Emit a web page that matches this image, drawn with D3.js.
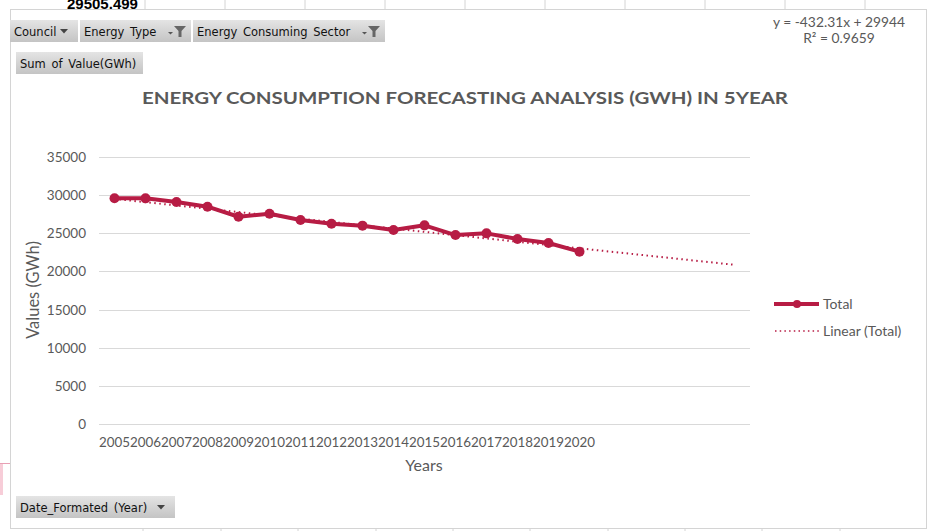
<!DOCTYPE html>
<html><head><meta charset="utf-8">
<script src="https://cdn.jsdelivr.net/npm/d3@7"></script>
<style>
html,body{margin:0;padding:0;background:#fff;}
svg{display:block;}
</style></head>
<body>
<svg id="c" width="928" height="531"></svg>
<script>
const years = ["2005","2006","2007","2008","2009","2010","2011","2012","2013","2014","2015","2016","2017","2018","2019","2020"];
const totals = [29600,29580,29100,28490,27170,27570,26740,26260,26000,25430,26040,24770,24990,24250,23730,22590];
const forecastPeriods = 5;
const trendSlope = -432.31;
const trendIntercept = 29944;
const yTicks = [0,5000,10000,15000,20000,25000,30000,35000];
const filterButtons = ["Council","Energy Type","Energy Consuming Sector"];

const svg = d3.select("#c");
const red = "#b71c44";
const grey = "#595959";
const font = "Lato, 'Open Sans', sans-serif";
const uiFont = "'DejaVu Sans', Verdana, sans-serif";

// spreadsheet background
const bg = svg.append("g");
bg.append("text").attr("x",67).attr("y",9).attr("font-family","Liberation Sans, Arial").attr("font-weight","bold").attr("font-size",15).attr("fill","#000").text("29505.499");
[145,225,305,385,465,545,625,705,785,865].forEach(x=>bg.append("line").attr("x1",x).attr("x2",x).attr("y1",0).attr("y2",9).attr("stroke","#d4d4d4"));
[143,221,298,376,453,530,608,685,762,840].forEach(x=>bg.append("line").attr("x1",x).attr("x2",x).attr("y1",529).attr("y2",531).attr("stroke","#d4d4d4"));
bg.append("rect").attr("x",0).attr("y",464).attr("width",3).attr("height",31).attr("fill","#f7cdd8");
bg.append("line").attr("x1",0).attr("x2",10).attr("y1",463.5).attr("y2",463.5).attr("stroke","#e8a0b4");

// chart box
svg.append("rect").attr("x",10.5).attr("y",9.5).attr("width",916).attr("height",519).attr("fill","#fff").attr("stroke","#d4d4d4");

const x = d3.scaleLinear().domain([0.5, years.length + forecastPeriods + 0.5]).range([99, 750]);
const y = d3.scaleLinear().domain([0,35000]).range([424,157]);

// gridlines
svg.append("g").selectAll("line").data(yTicks).join("line")
  .attr("x1",99).attr("x2",750).attr("y1",d=>Math.round(y(d))+0.5).attr("y2",d=>Math.round(y(d))+0.5)
  .attr("stroke","#d9d9d9").attr("stroke-width",1);

// y axis labels
svg.append("g").selectAll("text").data(yTicks).join("text")
  .attr("x",86).attr("y",d=>y(d)+5).attr("text-anchor","end")
  .attr("font-family",font).attr("font-size",13.5).attr("fill",grey).text(d=>d);

// x labels
svg.append("g").selectAll("text").data(years).join("text")
  .attr("x",(d,i)=>x(i+1)).attr("y",447).attr("text-anchor","middle")
  .attr("font-family",font).attr("font-size",13.5).attr("fill",grey)
  .attr("textLength",31).attr("lengthAdjust","spacingAndGlyphs").text(d=>d);

// axis titles
svg.append("text").attr("x",424).attr("y",471).attr("text-anchor","middle").attr("font-family",font).attr("font-size",16).attr("fill",grey).text("Years");
svg.append("text").attr("transform","translate(39,290) rotate(-90)").attr("text-anchor","middle").attr("font-family",font).attr("font-size",16.5).attr("fill",grey).text("Values (GWh)");

// title
svg.append("text").attr("x",465).attr("y",104).attr("text-anchor","middle").attr("font-family",font).attr("font-weight","bold").attr("font-size",17).attr("fill",grey)
  .attr("textLength",646).attr("lengthAdjust","spacingAndGlyphs").text("ENERGY CONSUMPTION FORECASTING ANALYSIS (GWH) IN 5YEAR");

// trendline
const tx1 = 1, tx2 = years.length + forecastPeriods;
svg.append("line").attr("x1",x(tx1)).attr("x2",x(tx2))
  .attr("y1",y(trendIntercept+trendSlope*tx1)).attr("y2",y(trendIntercept+trendSlope*tx2))
  .attr("stroke",red).attr("stroke-width",2).attr("stroke-dasharray","1.5,3.5");

// data line
const line = d3.line().x((d,i)=>x(i+1)).y(d=>y(d));
svg.append("path").datum(totals).attr("d",line).attr("fill","none").attr("stroke",red).attr("stroke-width",4).attr("stroke-linejoin","round");
svg.append("g").selectAll("circle").data(totals).join("circle")
  .attr("cx",(d,i)=>x(i+1)).attr("cy",d=>y(d)).attr("r",5).attr("fill",red);

// equation
svg.append("text").attr("x",839).attr("y",27).attr("text-anchor","middle").attr("font-family",font).attr("font-size",13.8).attr("fill",grey).text("y = -432.31x + 29944");
svg.append("text").attr("x",839).attr("y",43).attr("text-anchor","middle").attr("font-family",font).attr("font-size",13.8).attr("fill",grey).text("R² = 0.9659");

// legend
const lg = svg.append("g");
lg.append("line").attr("x1",774).attr("x2",819).attr("y1",304).attr("y2",304).attr("stroke",red).attr("stroke-width",4);
lg.append("circle").attr("cx",797).attr("cy",304).attr("r",4).attr("fill",red);
lg.append("text").attr("x",823).attr("y",309).attr("font-family",font).attr("font-size",14).attr("fill",grey).text("Total");
lg.append("line").attr("x1",775).attr("x2",819).attr("y1",331).attr("y2",331).attr("stroke",red).attr("stroke-width",1.5).attr("stroke-dasharray","1.5,3.2");
lg.append("text").attr("x",823).attr("y",336).attr("font-family",font).attr("font-size",14).attr("fill",grey).text("Linear (Total)");

// pivot buttons
const defs = svg.append("defs");
const gr = defs.append("linearGradient").attr("id","btn").attr("x1",0).attr("x2",0).attr("y1",0).attr("y2",1);
gr.append("stop").attr("offset","0%").attr("stop-color","#e4e4e4");
gr.append("stop").attr("offset","100%").attr("stop-color","#c4c4c4");

function button(x0,y0,w,label,icon){
  const g = svg.append("g");
  g.append("rect").attr("x",x0).attr("y",y0).attr("width",w).attr("height",22).attr("fill","url(#btn)");
  g.append("text").attr("x",x0+4).attr("y",y0+15.5).attr("font-family",uiFont).attr("font-size",11.5).attr("fill","#111")
    .attr("word-spacing",2).text(label);
  if(icon==="arrow"){
    const ax = x0+w-14, ay = y0+9;
    g.append("path").attr("d",`M${ax-4},${ay} L${ax+4},${ay} L${ax},${ay+4.5} Z`).attr("fill","#444");
  } else if(icon==="filter"){
    const ax = x0+w-19, ay = y0+6;
    g.append("path").attr("d",`M${ax-4},${ay+6} L${ax+1},${ay+6} L${ax-1.5},${ay+8.5} Z`).attr("fill","#555");
    g.append("path").attr("d",`M${ax+2},${ay} L${ax+14},${ay} L${ax+9.5},${ay+5} L${ax+9.5},${ay+11} L${ax+6.5},${ay+11} L${ax+6.5},${ay+5} Z`).attr("fill","#666");
  }
}
button(10,20,68,filterButtons[0],"arrow");
button(80,20,111,filterButtons[1],"filter");
button(193,20,192,filterButtons[2],"filter");
button(16,52,127,"Sum of Value(GWh)",null);
button(16,496,159,"Date_Formated (Year)","arrow");
</script>
</body></html>
